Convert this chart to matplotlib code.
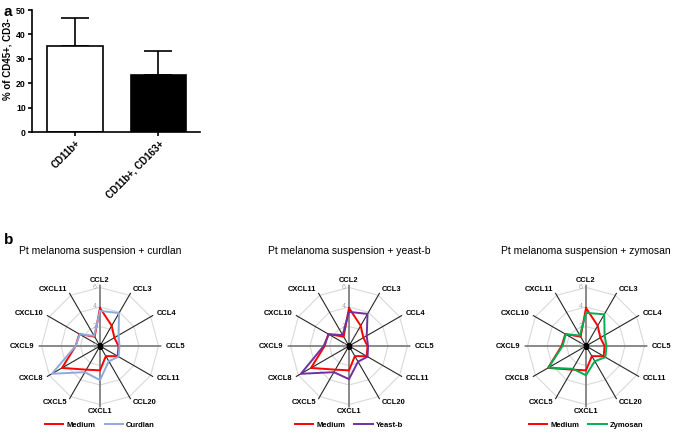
import numpy as np
import matplotlib.pyplot as plt

plt.rcParams['font.family'] = ['Liberation Sans', 'DejaVu Sans']

# panel a
bar_labels = ['CD11b+', 'CD11b+, CD163+']
bar_means = [35.2, 23.3]
bar_err = [11.6, 10.0]

# panel b
chemokines = ['CCL2', 'CCL3', 'CCL4', 'CCL5', 'CCL11', 'CCL20',
              'CXCL1', 'CXCL5', 'CXCL8', 'CXCL9', 'CXCL10', 'CXCL11']
medium = [3.9, 2.4, 1.7, 1.9, 2.1, 1.2, 2.5, 2.8, 4.5, 2.5, 2.45, 1.1]
curdlan = [3.6, 3.9, 2.2, 2.0, 2.2, 1.8, 3.5, 3.1, 5.7, 2.5, 2.4, 1.2]
yeast_b = [3.5, 3.8, 2.1, 1.95, 2.2, 1.85, 3.4, 3.1, 5.7, 2.6, 2.4, 1.3]
zymosan = [3.4, 3.75, 2.2, 2.1, 2.3, 1.8, 3.0, 2.7, 4.45, 2.4, 2.4, 1.25]
ring_ticks = [0, 2, 4, 6]

panels = [
    ('Pt melanoma suspension + curdlan', 'Curdlan', curdlan, '#8eaadb', 100),
    ('Pt melanoma suspension + yeast-b', 'Yeast-b', yeast_b, '#7030a0', 349),
    ('Pt melanoma suspension + zymosan', 'Zymosan', zymosan, '#00b050', 586),
]

W, H = 676, 432
fig = plt.figure(figsize=(W / 100, H / 100), dpi=100)

# ---- bar chart ----
ax = fig.add_axes([32 / W, 1 - 132 / H, 168 / W, 122 / H])
x = np.arange(len(bar_labels))
ax.bar(x, bar_means, width=0.67, color=['white', 'black'], edgecolor='black',
       linewidth=1.2, zorder=2)
ax.errorbar(x, bar_means, yerr=[[0, 0], bar_err], fmt='none', ecolor='black',
            elinewidth=1.2, capsize=10, capthick=1.2, zorder=1)
ax.set_xlim(-0.52, 1.5)
ax.set_ylim(0, 50)
ax.set_yticks([0, 10, 20, 30, 40, 50])
ax.set_xticks(x)
ax.set_xticklabels(bar_labels, rotation=45, ha='right', rotation_mode='anchor',
                   fontsize=7, fontweight='bold')
for t in ax.get_yticklabels():
    t.set_fontsize(6.3)
    t.set_fontweight('bold')
ax.set_ylabel('% of CD45+, CD3-', fontsize=7, fontweight='bold')
ax.yaxis.set_label_coords(-19 / 168, 0.6)
ax.spines['top'].set_visible(False)
ax.spines['right'].set_visible(False)
ax.spines['left'].set_linewidth(1.2)
ax.spines['bottom'].set_linewidth(1.2)
ax.tick_params(direction='out', length=3, width=1.2, pad=1.5)

fig.text(4 / W, 1 - 12 / H, 'a', fontsize=11, fontweight='bold', va='center')
fig.text(4 / W, 1 - 240 / H, 'b', fontsize=11, fontweight='bold', va='center')

# ---- radar charts ----
n = len(chemokines)
theta = np.linspace(0, 2 * np.pi, n, endpoint=False)
theta_c = np.append(theta, theta[0])
rmax = 6.3
unit = 9.75
cy = 346
rad_px = rmax * unit

for title, name, vals, col, cx in panels:
    pax = fig.add_axes([(cx - rad_px) / W, (H - cy - rad_px) / H,
                        2 * rad_px / W, 2 * rad_px / H], projection='polar')
    pax.set_theta_zero_location('N')
    pax.set_theta_direction(-1)
    pax.set_ylim(0, rmax)
    pax.grid(False)
    pax.set_xticks([])
    pax.set_yticks([])
    pax.spines['polar'].set_visible(False)
    pax.patch.set_alpha(0)

    for r in ring_ticks[1:]:
        pax.plot(theta_c, [r] * (n + 1), color='#d9d9d9', lw=0.8, zorder=1)
    for i, t in enumerate(theta):
        if i % 3 == 0:
            pax.plot([t, t], [0, rmax], color='#808080', lw=1.3, zorder=2)
        else:
            pax.plot([t, t], [0, rmax], color='#262626', lw=0.8, zorder=2)
    for r in ring_ticks:
        pax.annotate(str(r), xy=(0, r), xytext=(-2.5, 0), textcoords='offset points',
                     ha='right', va='center', fontsize=5, color='#a6a6a6', zorder=3)

    l1, = pax.plot(theta_c, medium + medium[:1], color='#ff0000', lw=1.4, zorder=4)
    l2, = pax.plot(theta_c, vals + vals[:1], color=col, lw=1.4, zorder=5)
    pax.plot([0], [0], marker='s', color='black', markersize=3, zorder=6)

    for t, lab in zip(theta, chemokines):
        s = np.sin(t)
        ha = 'center' if abs(s) < 0.1 else ('left' if s > 0 else 'right')
        pax.text(t, 6.75, lab, ha=ha, va='center', fontsize=5.4,
                 fontweight='bold', clip_on=False)

    fig.text(cx / W, 1 - 251 / H, title, ha='center', va='center', fontsize=7.5)
    pax.legend([l1, l2], ['Medium', name], loc='center',
               bbox_to_anchor=(0.5, (cy - 425 + rad_px) / (2 * rad_px)),
               ncol=2, frameon=False, handlelength=2.4, columnspacing=1.2,
               handletextpad=0.4, prop={'size': 5.5, 'weight': 'bold'})

fig.savefig('out.png', dpi=100)
